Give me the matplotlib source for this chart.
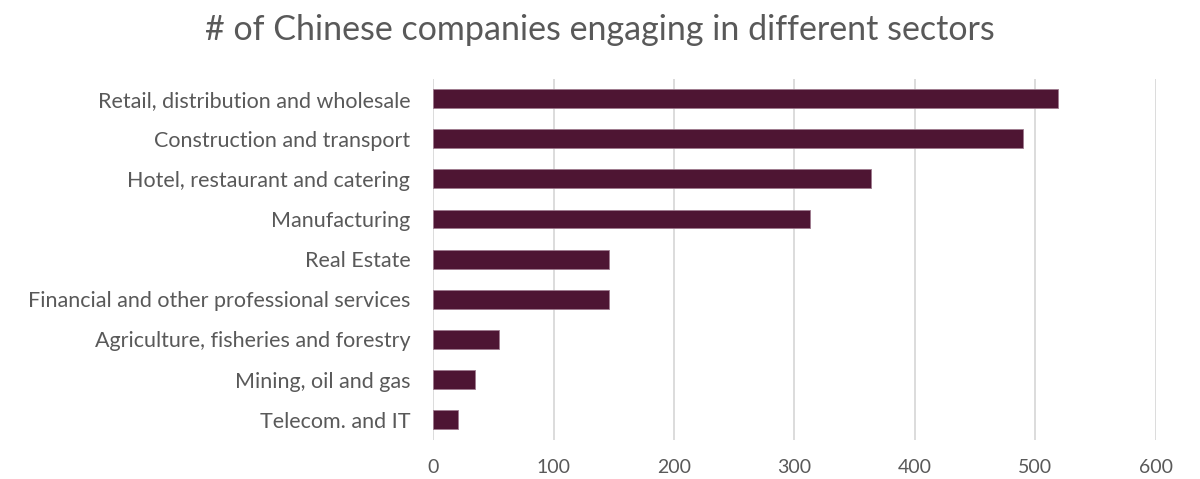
import matplotlib.pyplot as plt

# sectors listed top to bottom
sectors = [
    "Retail, distribution and wholesale",
    "Construction and transport",
    "Hotel, restaurant and catering",
    "Manufacturing",
    "Real Estate",
    "Financial and other professional services",
    "Agriculture, fisheries and forestry",
    "Mining, oil and gas",
    "Telecom. and IT",
]
companies = [519, 490, 364, 313, 146, 146, 55, 35, 21]
xticks = [0, 100, 200, 300, 400, 500, 600]

plt.rcParams['font.family'] = ['Lato', 'DejaVu Sans']

fig = plt.figure(figsize=(12, 4.79), dpi=100)
ax = fig.add_axes([0.361, 0.082, 0.602, 0.754])

ypos = list(range(len(sectors)))
ax.barh(ypos, companies, height=0.47, color="#4E1533",
        edgecolor="#9E7A8E", linewidth=0.6, zorder=3)

ax.set_ylim(len(sectors) - 0.5, -0.5)
ax.set_xlim(0, 600)
ax.set_yticks(ypos)
ax.set_yticklabels(sectors, fontsize=15.5, color="#595959")
ax.set_xticks(xticks)
ax.set_xticklabels([str(t) for t in xticks], fontsize=14, color="#595959")
ax.tick_params(axis="y", length=0, pad=16.5)
ax.tick_params(axis="x", length=0, pad=14)

ax.grid(axis="x", color="#D9D9D9", linewidth=1.3, zorder=0)
for side in ["top", "right", "bottom", "left"]:
    ax.spines[side].set_visible(False)

fig.text(0.5, 0.938, "# of Chinese companies engaging in different sectors",
         ha="center", va="center", fontsize=24.5, color="#595959")

fig.savefig("out.png", dpi=100, facecolor="white")
